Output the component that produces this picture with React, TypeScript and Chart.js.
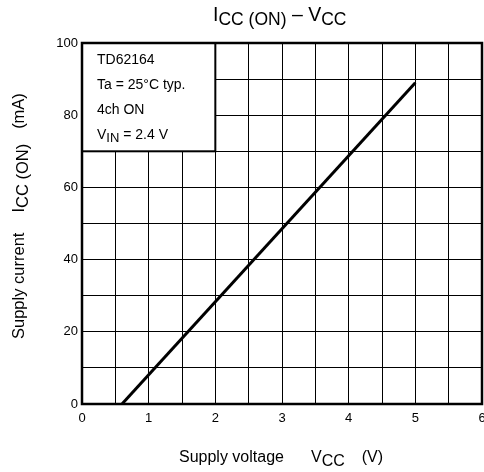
import React, { useEffect, useRef } from 'react';
import { Chart, registerables } from 'chart.js';
Chart.register(...registerables);

// Data
const vccValues = [0.6, 5.0];
const iccValues = [0, 89];
const xTickLabels = ['0', '1', '2', '3', '4', '5', '6'];
const yTickLabels = ['0', '20', '40', '60', '80', '100'];
const infoBoxRange = { xMin: 0, xMax: 2, yMin: 70, yMax: 100 };

type Seg = { t: string; sub?: boolean; gap?: number };
const titleSegs: Seg[] = [{ t: 'I' }, { t: 'CC (ON)', sub: true }, { t: ' – ' }, { t: 'V' }, { t: 'CC', sub: true }];
const xTitleSegs: Seg[] = [{ t: 'Supply voltage' }, { t: '', gap: 27 }, { t: 'V' }, { t: 'CC', sub: true }, { t: '', gap: 17 }, { t: '(V)' }];
const yTitleSegs: Seg[] = [{ t: 'Supply current' }, { t: '', gap: 20 }, { t: 'I' }, { t: 'CC (ON)', sub: true }, { t: '', gap: 15 }, { t: '(mA)' }];
const infoLines: Seg[][] = [
  [{ t: 'TD62164' }],
  [{ t: 'Ta = 25°C typ.' }],
  [{ t: '4ch ON' }],
  [{ t: 'V' }, { t: 'IN', sub: true }, { t: ' = 2.4 V' }],
];

const FAMILY = "'Liberation Sans', Arial, Helvetica, sans-serif";

function segWidth(ctx: CanvasRenderingContext2D, s: Seg, main: number, sub: number) {
  if (s.gap) return s.gap;
  ctx.font = `${s.sub ? sub : main}px ${FAMILY}`;
  return ctx.measureText(s.t).width;
}

function drawRich(
  ctx: CanvasRenderingContext2D,
  segs: Seg[],
  x: number,
  y: number,
  main: number,
  sub: number,
  subOff: number,
  align: 'left' | 'center'
) {
  const total = segs.reduce((a, s) => a + segWidth(ctx, s, main, sub), 0);
  let cx = align === 'center' ? x - total / 2 : x;
  ctx.textAlign = 'left';
  ctx.textBaseline = 'alphabetic';
  ctx.fillStyle = '#000';
  for (const s of segs) {
    const w = segWidth(ctx, s, main, sub);
    if (!s.gap) {
      ctx.font = `${s.sub ? sub : main}px ${FAMILY}`;
      ctx.fillText(s.t, cx, y + (s.sub ? subOff : 0));
    }
    cx += w;
  }
}

const decorPlugin = {
  id: 'decor',
  beforeDatasetsDraw(chart: any) {
    const { ctx, scales } = chart;
    const x0 = scales.x.getPixelForValue(infoBoxRange.xMin);
    const x1 = scales.x.getPixelForValue(infoBoxRange.xMax);
    const y0 = scales.y.getPixelForValue(infoBoxRange.yMax);
    const y1 = scales.y.getPixelForValue(infoBoxRange.yMin);
    ctx.save();
    ctx.fillStyle = '#fff';
    ctx.fillRect(x0, y0, x1 - x0, y1 - y0);
    ctx.strokeStyle = '#000';
    ctx.lineWidth = 2;
    ctx.strokeRect(x0, y0, x1 - x0, y1 - y0);
    infoLines.forEach((line, i) => {
      drawRich(ctx, line, x0 + 15, y0 + 21 + i * 25, 14, 13, 3, 'left');
    });
    ctx.restore();
  },
  afterDatasetsDraw(chart: any) {
    const { ctx, chartArea } = chart;
    ctx.save();
    ctx.strokeStyle = '#000';
    ctx.lineWidth = 2.5;
    ctx.strokeRect(chartArea.left, chartArea.top, chartArea.right - chartArea.left, chartArea.bottom - chartArea.top);
    // Title
    drawRich(ctx, titleSegs, 213, 21, 19.5, 17.5, 4, 'left');
    // X title
    drawRich(ctx, xTitleSegs, 179, 462, 16, 16, 4, 'left');
    // Y title
    ctx.translate(24, 339);
    ctx.rotate(-Math.PI / 2);
    drawRich(ctx, yTitleSegs, 0, 0, 16.5, 16.5, 4, 'left');
    ctx.restore();
  },
};

export default function App() {
  const ref = useRef<HTMLCanvasElement>(null);
  useEffect(() => {
    if (!ref.current) return;
    const chart = new Chart(ref.current, {
      type: 'scatter',
      data: {
        datasets: [
          {
            data: vccValues.map((v, i) => ({ x: v, y: iccValues[i] })),
            showLine: true,
            borderColor: '#000',
            borderWidth: 3,
            pointRadius: 0,
            fill: false,
          },
        ],
      },
      options: {
        responsive: false,
        animation: false,
        layout: { padding: { top: 43, right: 2, left: 0, bottom: 0 } },
        plugins: { legend: { display: false }, tooltip: { enabled: false }, title: { display: false } },
        scales: {
          x: {
            type: 'linear',
            min: 0,
            max: 6,
            ticks: {
              stepSize: 0.5,
              autoSkip: false,
              maxRotation: 0,
              padding: 7,
              color: '#000',
              font: { size: 13, family: FAMILY },
              callback: (v: any) => {
                const s = String(v);
                return xTickLabels.includes(s) ? s : '';
              },
            },
            grid: { color: '#000', lineWidth: 1, drawTicks: false },
            border: { display: false },
            afterFit: (s: any) => {
              s.height = 68;
              s.paddingLeft = 0;
              s.paddingRight = 0;
            },
          },
          y: {
            type: 'linear',
            min: 0,
            max: 100,
            ticks: {
              stepSize: 10,
              autoSkip: false,
              padding: 4,
              color: '#000',
              font: { size: 13, family: FAMILY },
              callback: (v: any) => {
                const s = String(v);
                return yTickLabels.includes(s) ? s : '';
              },
            },
            grid: { color: '#000', lineWidth: 1, drawTicks: false },
            border: { display: false },
            afterFit: (s: any) => {
              s.width = 82;
              s.paddingTop = 0;
              s.paddingBottom = 0;
            },
          },
        },
      },
      plugins: [decorPlugin],
    });
    return () => chart.destroy();
  }, []);
  return (
    <div style={{ position: 'absolute', left: 0, top: 0, width: 484, height: 472, background: '#fff' }}>
      <canvas ref={ref} width={484} height={472} />
    </div>
  );
}
